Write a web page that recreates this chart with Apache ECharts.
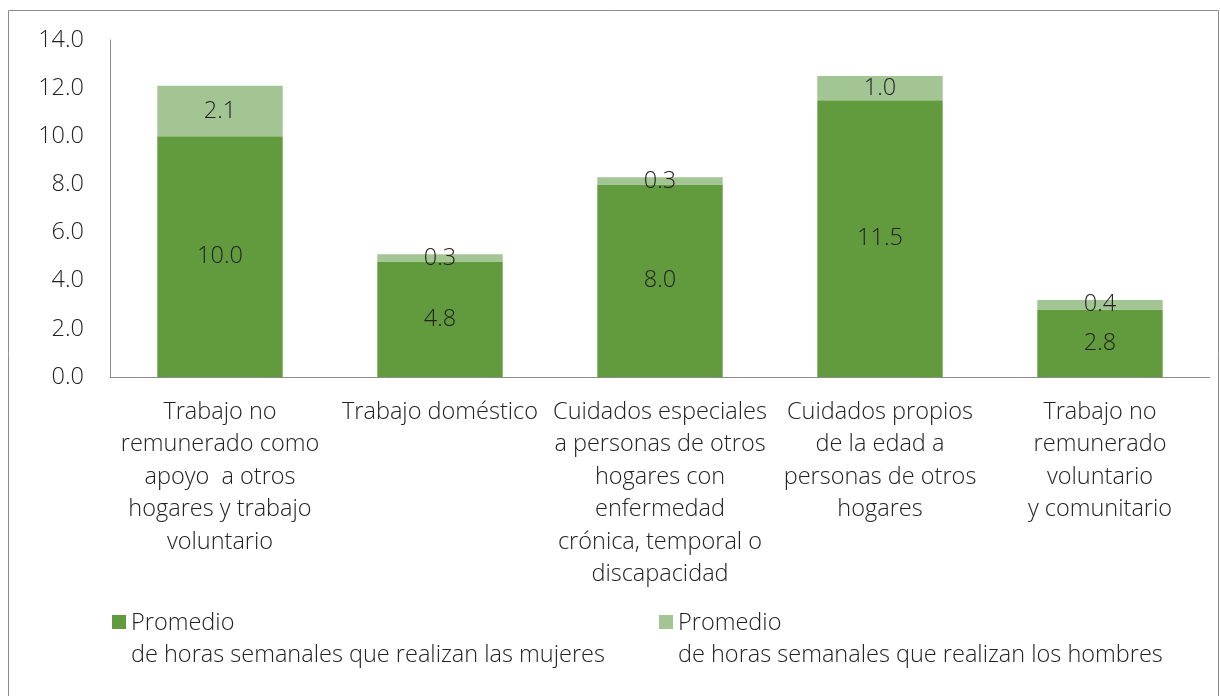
<!DOCTYPE html>
<html>
<head>
<meta charset="utf-8">
<script src="https://cdn.jsdelivr.net/npm/echarts@6/dist/echarts.min.js"></script>
<style>
  html, body { margin: 0; padding: 0; background: #fff; }
  #chart { width: 1220px; height: 696px; }
</style>
</head>
<body>
<div id="chart"></div>
<script>
  const categories = [
    'Trabajo no\nremunerado como\napoyo  a otros\nhogares y trabajo\nvoluntario',
    'Trabajo doméstico',
    'Cuidados especiales\na personas de otros\nhogares con\nenfermedad\ncrónica, temporal o\ndiscapacidad',
    'Cuidados propios\nde la edad a\npersonas de otros\nhogares',
    'Trabajo no\nremunerado\nvoluntario\ny comunitario'
  ];
  const mujeres = [10.0, 4.8, 8.0, 11.5, 2.8];
  const hombres = [2.1, 0.3, 0.3, 1.0, 0.4];
  const seriesNames = [
    'Promedio\nde horas semanales que realizan las mujeres',
    'Promedio\nde horas semanales que realizan los hombres'
  ];

  const FONT = '"Open Sans", Lato, sans-serif';
  const SIZE = 23.5;
  const DARK = '#629a3e';
  const LIGHT = '#a3c593';
  // square at the top of a taller box so it lines up with the first text line
  const ICON = 'path://M0,0L14,0L14,14L0,14Z M0,48';

  const chart = echarts.init(document.getElementById('chart'));

  const legendText = {
    fontFamily: FONT,
    fontSize: SIZE,
    fontWeight: 300,
    color: '#222',
    lineHeight: 32
  };

  const barLabel = {
    show: true,
    position: 'inside',
    fontFamily: FONT,
    fontSize: SIZE,
    fontWeight: 300,
    color: '#222',
    formatter: (p) => p.value.toFixed(1)
  };

  chart.setOption({
    animation: false,
    textStyle: { fontFamily: FONT },
    graphic: [{
      type: 'rect',
      shape: { x: 8.5, y: 10.5, width: 1210, height: 700 },
      style: { fill: 'none', stroke: '#8c8c8c', lineWidth: 1 },
      silent: true
    }],
    grid: { left: 110, right: 10, top: 40, bottom: 319, containLabel: false },
    legend: [
      {
        data: [seriesNames[0]],
        left: 107,
        top: 602,
        icon: ICON,
        itemWidth: 14,
        itemHeight: 48,
        itemGap: 0,
        textStyle: legendText
      },
      {
        data: [seriesNames[1]],
        left: 654,
        top: 602,
        icon: ICON,
        itemWidth: 14,
        itemHeight: 48,
        itemGap: 0,
        textStyle: legendText
      }
    ],
    xAxis: {
      type: 'category',
      data: categories,
      axisLine: { lineStyle: { color: '#8c8c8c', width: 1 } },
      axisTick: { show: false },
      axisLabel: {
        interval: 0,
        margin: 19,
        fontFamily: FONT,
        fontSize: SIZE,
        fontWeight: 300,
        color: '#222',
        lineHeight: 32.5,
        align: 'center'
      }
    },
    yAxis: {
      type: 'value',
      min: 0,
      max: 14,
      interval: 2,
      axisLine: { show: true, lineStyle: { color: '#8c8c8c', width: 1 } },
      axisTick: { show: false },
      splitLine: { show: false },
      axisLabel: {
        margin: 26,
        fontFamily: FONT,
        fontSize: SIZE,
        fontWeight: 300,
        color: '#222',
        formatter: (v) => v.toFixed(1)
      }
    },
    series: [
      {
        name: seriesNames[0],
        type: 'bar',
        stack: 'total',
        data: mujeres,
        barCategoryGap: '43%',
        itemStyle: { color: DARK },
        label: barLabel
      },
      {
        name: seriesNames[1],
        type: 'bar',
        stack: 'total',
        data: hombres,
        barCategoryGap: '43%',
        itemStyle: { color: LIGHT },
        label: barLabel
      }
    ]
  });
</script>
</body>
</html>
